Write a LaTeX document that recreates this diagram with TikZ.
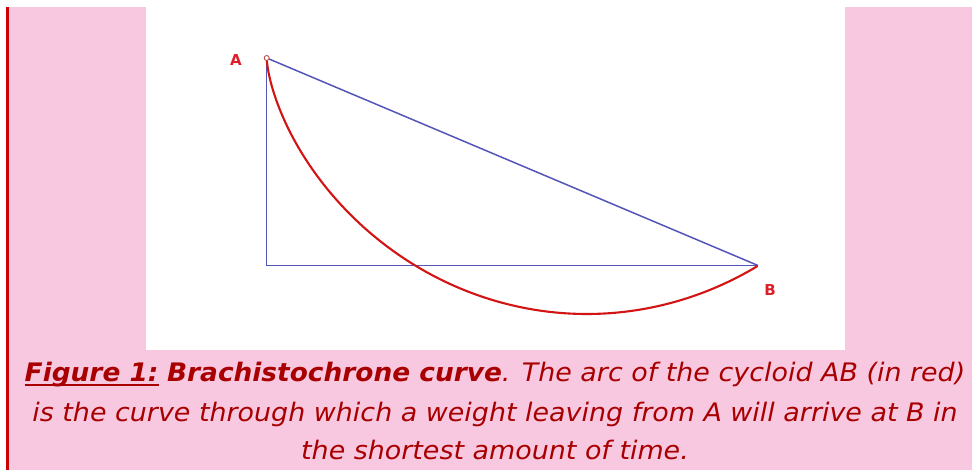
\documentclass[tikz,border=0pt]{standalone}
\usepackage{fontspec}
\setmainfont{DejaVu Sans}
\newfontfamily\capfont[FakeStretch=1.055]{DejaVu Sans}
\newfontfamily\capboldfont[FakeStretch=1.035,UprightFont={* Bold},ItalicFont={* Bold Oblique}]{DejaVu Sans}
\definecolor{pinkbg}{RGB}{248,200,225}
\definecolor{capred}{RGB}{168,0,0}
\definecolor{barred}{RGB}{204,0,0}
\definecolor{lineblue}{RGB}{85,85,185}
\definecolor{curvered}{RGB}{210,20,20}
\definecolor{labred}{RGB}{220,30,40}
\definecolor{ptbrown}{RGB}{180,80,80}
\newcommand\myul[1]{\setbox0\hbox{#1}\rlap{\color{capred}\rule[-4.5pt]{\wd0}{2.4pt}}\box0\relax}
\begin{document}
\begin{tikzpicture}[x=1pt,y=-1pt,
  caption/.style={anchor=base,inner sep=0,text=capred,font=\capfont\fontsize{25.5}{38}\selectfont\itshape},
  ptlabel/.style={text=labred,font=\fontsize{15}{17}\selectfont\bfseries,inner sep=0},
  geoline/.style={draw=lineblue,line width=1.5pt},
  arcline/.style={draw=curvered,line width=2.1pt}]
\useasboundingbox (0,0) rectangle (972,470);
\fill[white] (0,0) rectangle (972,470);
\fill[pinkbg] (8,7) rectangle (972,470);
\fill[barred] (6,7) rectangle (8.5,470);
\fill[white] (146,7) rectangle (845,350);
% points
\coordinate (A) at (266.7,58);
\coordinate (B) at (758,265.5);
\coordinate (C) at (266.7,265.5);
\node[ptlabel] (la) at (236,60) {A};
\node[ptlabel] (lb) at (770,290) {B};
% geometry
\draw[geoline] (A) -- (B);
\draw[geoline] (A) -- (C) -- (B);
\draw[arcline,variable=\t,domain=0:4.037,samples=120,smooth]
  plot ({266.7+101.9*(\t - sin(\t r))},{58+128*(1-cos(\t r))});
\draw[draw=ptbrown,line width=0.9pt,fill=white] (A) circle (2.5);
% caption
\node[caption] (c1) at (495,381.5) {\myul{\capboldfont\itshape Figure 1:} {\capboldfont\itshape Brachistochrone curve}. The arc of the cycloid AB (in red)};
\node[caption] (c2) at (495,421) {is the curve through which a weight leaving from A will arrive at B in};
\node[caption] (c3) at (495,459.5) {the shortest amount of time.};
\end{tikzpicture}
\end{document}
